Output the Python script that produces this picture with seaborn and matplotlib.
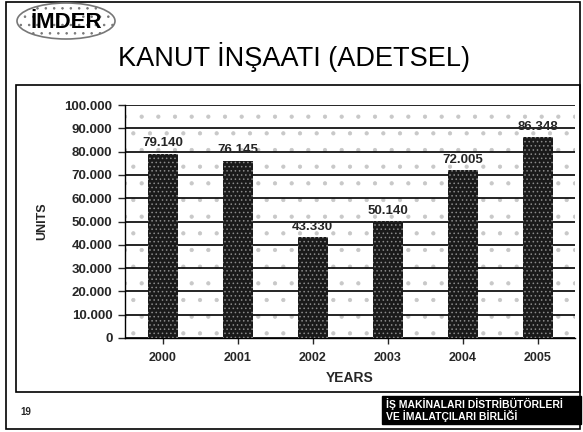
import matplotlib
matplotlib.use("Agg")
import matplotlib.pyplot as plt
import seaborn as sns
import pandas as pd
from matplotlib.ticker import FuncFormatter, MultipleLocator
from matplotlib.patches import Rectangle, Ellipse

years = ["2000", "2001", "2002", "2003", "2004", "2005"]
units = [79140, 76145, 43330, 50140, 72005, 86348]
value_labels = ["79.140", "76.145", "43.330", "50.140", "72.005", "86.348"]

title = "KANUT İNŞAATI (ADETSEL)"
x_label = "YEARS"
y_label = "UNITS"
logo_text = "İMDER"
page_no = "19"
footer_text = "İŞ MAKİNALARI DİSTRİBÜTÖRLERİ\nVE İMALATÇILARI BİRLİĞİ"

sns.set_style("white")
plt.rcParams['font.family'] = ['Liberation Sans', 'DejaVu Sans']
plt.rcParams['hatch.linewidth'] = 0.6

df = pd.DataFrame({"year": years, "units": units})

W, H = 583, 432
fig = plt.figure(figsize=(W / 100, H / 100), dpi=100)

def fx(px):
    return px / W

def fy(py):
    return 1 - py / H

ax = fig.add_axes([fx(125), fy(338), fx(575) - fx(125), fy(105) - fy(338)])
ax.set_zorder(2)

# stippled background
ax.add_patch(Rectangle((0, 0), 1, 1, transform=ax.transAxes, facecolor="white",
                       edgecolor="#c8c8c8", hatch=".", lw=0, zorder=0))

sns.barplot(data=df, x="year", y="units", ax=ax, color="#1a1a1a", width=0.4,
            saturation=1, zorder=3)
for p in ax.patches[1:]:
    p.set_hatch("....")
    p.set_edgecolor("#8a8a8a")
    p.set_linewidth(0)

ax.set_ylim(0, 100000)
ax.set_xlim(-0.5, len(years) - 0.5)
ax.yaxis.set_major_locator(MultipleLocator(10000))
ax.yaxis.set_major_formatter(FuncFormatter(lambda v, _: f"{int(v):,}".replace(",", ".")))
ax.grid(axis="y", color="black", lw=1.2, zorder=1)
ax.set_axisbelow(True)

for i, (v, lab) in enumerate(zip(units, value_labels)):
    ax.annotate(lab, (i, v), xytext=(0, 3), textcoords="offset points",
                ha="center", va="bottom", fontsize=9.5, fontweight="bold", zorder=5)

for s in ["top", "right"]:
    ax.spines[s].set_visible(False)
ax.spines["left"].set_color("black")
ax.spines["bottom"].set_color("black")
ax.spines["left"].set_linewidth(1)
ax.spines["bottom"].set_linewidth(1)
ax.tick_params(axis="y", which="major", left=True, length=5, width=1, labelsize=9.5, pad=4)
ax.tick_params(axis="x", which="major", bottom=True, length=4, width=1, labelsize=9, pad=6)
for t in ax.get_xticklabels() + ax.get_yticklabels():
    t.set_fontweight("bold")
ax.set_xlabel(x_label, fontsize=10, fontweight="bold", labelpad=5)
ax.set_ylabel(y_label, fontsize=9, fontweight="bold", labelpad=12)

# frames
fig.patches.append(Rectangle((fx(6), fy(429)), fx(580) - fx(6), fy(2) - fy(429),
                             transform=fig.transFigure, fill=False, edgecolor="black", lw=1.2))
fig.patches.append(Rectangle((fx(16), fy(392)), fx(580) - fx(16), fy(85) - fy(392),
                             transform=fig.transFigure, fill=False, edgecolor="black", lw=1.2))

# logo
fig.patches.append(Ellipse((fx(66), fy(21)), fx(98), 36 / H, transform=fig.transFigure,
                           facecolor="white", edgecolor="#777777", hatch="..", lw=1.2))
fig.text(fx(66), fy(22), logo_text, ha="center", va="center", fontsize=16,
         fontweight="heavy", color="black")

fig.text(fx(294), fy(57), title, ha="center", va="center", fontsize=19.5, color="black")

fig.text(fx(20), fy(412), page_no, ha="left", va="center", fontsize=7, fontweight="bold")
fig.patches.append(Rectangle((fx(382), fy(424)), fx(581) - fx(382), fy(396) - fy(424),
                             transform=fig.transFigure, facecolor="black", edgecolor="black"))
fig.text(fx(386), fy(410), footer_text, ha="left", va="center", fontsize=7.5,
         fontweight="bold", color="white", linespacing=1.0)

fig.savefig("out.png", dpi=100)
